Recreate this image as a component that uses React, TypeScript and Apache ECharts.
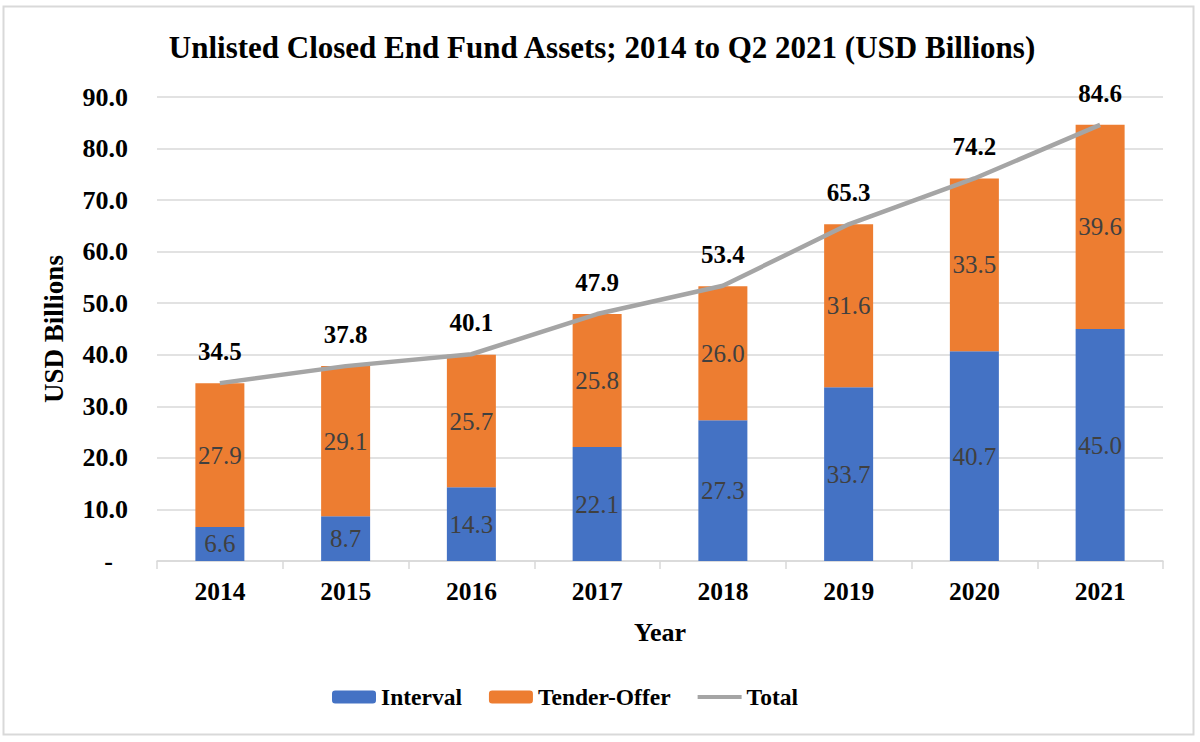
import React, { useEffect, useRef } from "react";
import * as echarts from "echarts";

const years = ["2014", "2015", "2016", "2017", "2018", "2019", "2020", "2021"];
const intervalValues = [6.6, 8.7, 14.3, 22.1, 27.3, 33.7, 40.7, 45.0];
const tenderOfferValues = [27.9, 29.1, 25.7, 25.8, 26.0, 31.6, 33.5, 39.6];
const totalValues = [34.5, 37.8, 40.1, 47.9, 53.4, 65.3, 74.2, 84.6];

const FONT = "Liberation Serif";

export default function App() {
  const ref = useRef<HTMLDivElement>(null);
  useEffect(() => {
    document.body.style.margin = "0";
    const chart = echarts.init(ref.current!, null, { renderer: "svg" });
    chart.setOption({
      animation: false,
      backgroundColor: "#ffffff",
      textStyle: { fontFamily: FONT },
      title: {
        text: "Unlisted Closed End Fund Assets; 2014 to Q2 2021 (USD Billions)",
        left: 597,
        textAlign: "center",
        top: 27,
        textStyle: { fontFamily: FONT, fontWeight: "bold", fontSize: 31, color: "#000" },
      },
      graphic: [
        {
          type: "rect",
          shape: { x: 3.5, y: 6.5, width: 1190, height: 728 },
          style: { fill: "none", stroke: "#d9d9d9", lineWidth: 2 },
          silent: true,
        },
      ],
      legend: {
        left: 332,
        top: 685,
        padding: 0,
        itemWidth: 44,
        itemHeight: 13,
        itemGap: 27,
        textStyle: { fontFamily: FONT, fontWeight: "bold", fontSize: 23.5, color: "#000" },
        data: ["Interval", "Tender-Offer", { name: "Total", icon: "path://M0,0L44,0L44,4L0,4Z" }],
      },
      grid: { left: 157, right: 37, top: 97, bottom: 181 },
      xAxis: {
        type: "category",
        data: years,
        name: "Year",
        nameLocation: "middle",
        nameGap: 58,
        nameTextStyle: { fontFamily: FONT, fontWeight: "bold", fontSize: 26, color: "#000" },
        axisLine: { lineStyle: { color: "#d9d9d9", width: 1.5 } },
        axisTick: { show: true, length: 8, lineStyle: { color: "#d9d9d9", width: 1.5 } },
        axisLabel: { fontFamily: FONT, fontWeight: "bold", fontSize: 25.5, color: "#000", margin: 17 },
      },
      yAxis: {
        type: "value",
        min: 0,
        max: 90,
        interval: 10,
        name: "USD Billions",
        nameLocation: "middle",
        nameGap: 90,
        nameTextStyle: { fontFamily: FONT, fontWeight: "bold", fontSize: 27, color: "#000" },
        axisLine: { show: false },
        axisTick: { show: false },
        splitLine: { lineStyle: { color: "#d9d9d9", width: 1.5 } },
        axisLabel: {
          fontFamily: FONT,
          fontWeight: "bold",
          fontSize: 26,
          color: "#000",
          margin: 29,
          formatter: (v: number) => (v === 0 ? "{z|-}" : v.toFixed(1)),
          rich: { z: { fontFamily: FONT, fontWeight: "bold", fontSize: 26, color: "#000", padding: [0, 15, 0, 0] } },
        },
      },
      series: [
        {
          name: "Interval",
          type: "bar",
          stack: "a",
          data: intervalValues,
          barWidth: 49,
          itemStyle: { color: "#4472C4" },
          label: {
            show: true,
            position: "inside",
            fontFamily: FONT,
            fontSize: 25,
            color: "#404040",
            formatter: (p: any) => p.value.toFixed(1),
          },
        },
        {
          name: "Tender-Offer",
          type: "bar",
          stack: "a",
          data: tenderOfferValues,
          barWidth: 49,
          itemStyle: { color: "#ED7D31" },
          label: {
            show: true,
            position: "inside",
            fontFamily: FONT,
            fontSize: 25,
            color: "#404040",
            formatter: (p: any) => p.value.toFixed(1),
          },
        },
        {
          name: "Total",
          type: "line",
          data: totalValues,
          symbol: "circle",
          symbolSize: 0,
          lineStyle: { color: "#A5A5A5", width: 4.5 },
          itemStyle: { color: "#A5A5A5" },
          label: {
            show: true,
            position: "top",
            distance: 19,
            fontFamily: FONT,
            fontWeight: "bold",
            fontSize: 25,
            color: "#000",
            formatter: (p: any) => p.value.toFixed(1),
          },
        },
      ],
    });
    return () => chart.dispose();
  }, []);
  return <div ref={ref} style={{ width: 1200, height: 742 }} />;
}
